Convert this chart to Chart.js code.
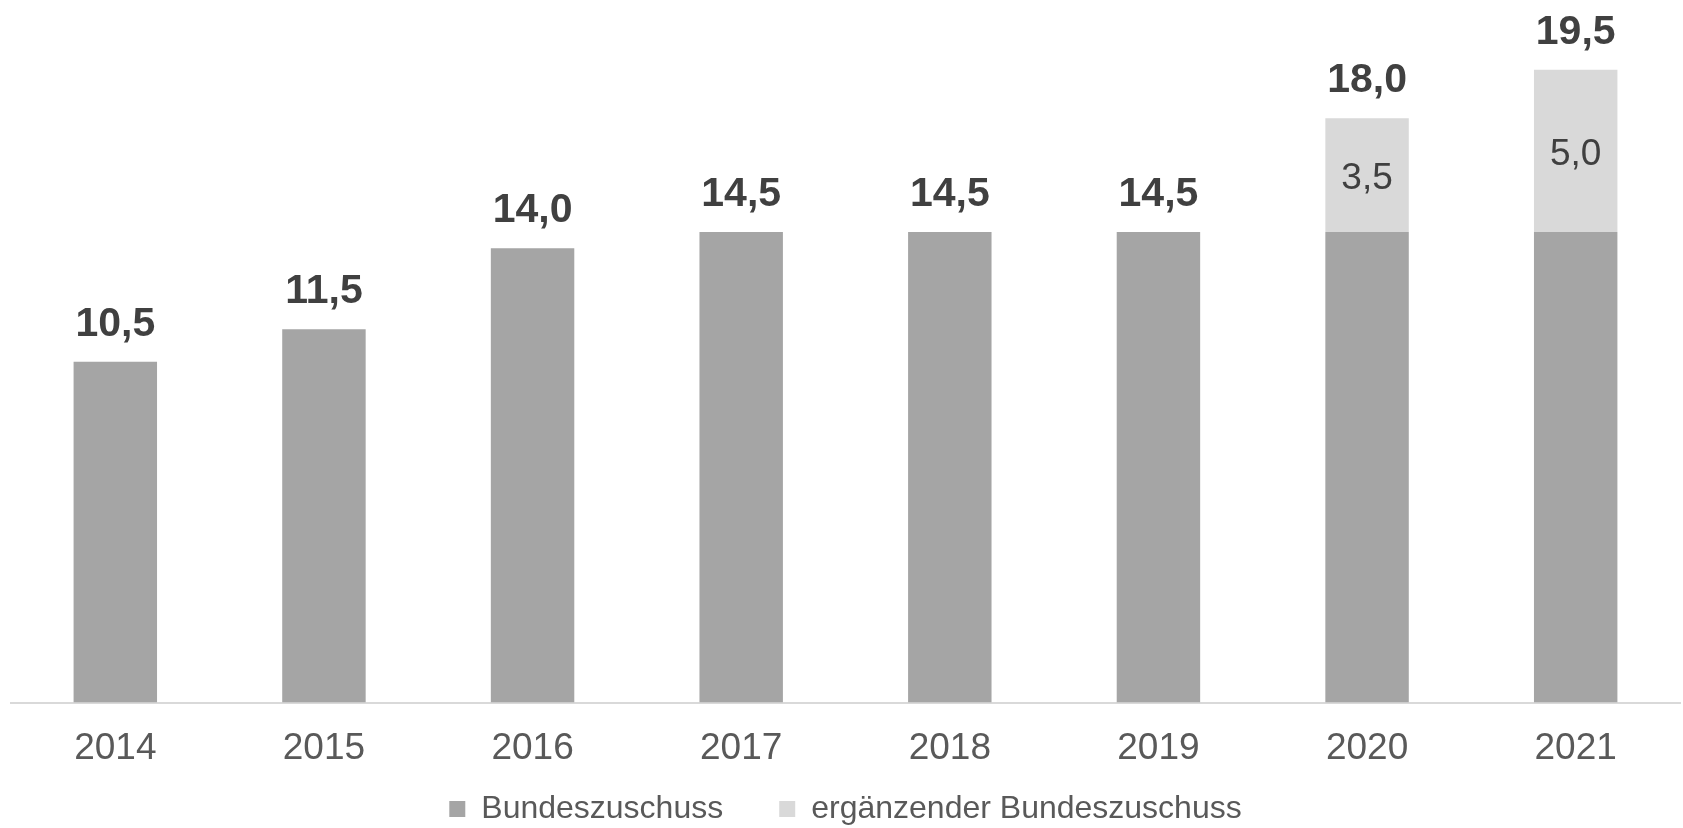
<!DOCTYPE html>
<html><head><meta charset="utf-8">
<script src="https://cdn.jsdelivr.net/npm/chart.js@4/dist/chart.umd.min.js"></script>
<style>html,body{margin:0;padding:0;background:#fff}#wrap{width:1683px;height:828px}</style>
</head><body><div id="wrap"><canvas id="c" width="1683" height="828"></canvas></div>
<script>
const categories = ['2014','2015','2016','2017','2018','2019','2020','2021'];
const bundeszuschuss = [10.5, 11.5, 14.0, 14.5, 14.5, 14.5, 14.5, 14.5];
const ergaenzend = [null, null, null, null, null, null, 3.5, 5.0];
const totals = [10.5, 11.5, 14.0, 14.5, 14.5, 14.5, 18.0, 19.5];
const seriesNames = ['Bundeszuschuss', 'ergänzender Bundeszuschuss'];
const fmt = v => v.toFixed(1).replace('.', ',');
const FONT = '"Liberation Sans", Arial, sans-serif';

const labelPlugin = {
  id: 'labels',
  afterLayout(chart) {
    // pull the legend up so it sits closer to the axis labels
    if (chart.legend) { chart.legend.top -= 58; chart.legend.bottom -= 58; }
  },
  afterDatasetsDraw(chart) {
    const ctx = chart.ctx;
    const m0 = chart.getDatasetMeta(0), m1 = chart.getDatasetMeta(1);
    ctx.save();
    ctx.textAlign = 'center';
    ctx.font = '37px ' + FONT;
    ctx.fillStyle = '#404040';
    ctx.textBaseline = 'middle';
    ergaenzend.forEach((v, i) => {
      if (v == null) return;
      const el = m1.data[i];
      ctx.fillText(fmt(v), el.x, (el.y + el.base) / 2 + 4);
    });
    ctx.font = 'bold 41px ' + FONT;
    ctx.textBaseline = 'alphabetic';
    totals.forEach((v, i) => {
      const el = (ergaenzend[i] != null) ? m1.data[i] : m0.data[i];
      ctx.fillText(fmt(v), el.x, el.y - 26);
    });
    ctx.restore();
  }
};

new Chart(document.getElementById('c'), {
  type: 'bar',
  data: {
    labels: categories,
    datasets: [
      { label: seriesNames[0], data: bundeszuschuss, backgroundColor: '#a5a5a5', borderWidth: 0 },
      { label: seriesNames[1], data: ergaenzend, backgroundColor: '#d9d9d9', borderWidth: 0 }
    ]
  },
  options: {
    responsive: false,
    animation: false,
    devicePixelRatio: 1,
    layout: { padding: { left: 11, right: 3, top: 21, bottom: -65 } },
    datasets: { bar: { categoryPercentage: 1.0, barPercentage: 0.4 } },
    scales: {
      x: {
        stacked: true,
        grid: { display: false, drawTicks: false },
        border: { display: true, color: '#d9d9d9', width: 2 },
        ticks: { color: '#595959', font: { size: 37, family: FONT }, padding: 24 }
      },
      y: { stacked: true, display: false, min: 0, max: 21 }
    },
    plugins: {
      legend: {
        position: 'bottom',
        labels: {
          color: '#595959',
          font: { size: 32, family: FONT },
          boxWidth: 16, boxHeight: 16, padding: 56
        }
      },
      tooltip: { enabled: false }
    }
  },
  plugins: [labelPlugin]
});
</script></body></html>
